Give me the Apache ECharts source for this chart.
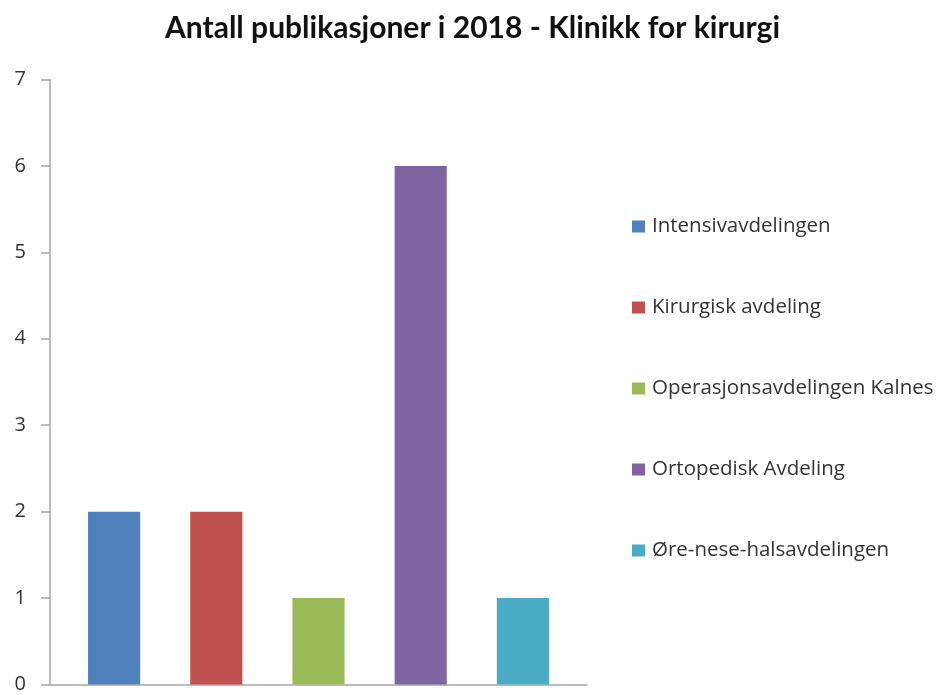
<!DOCTYPE html>
<html>
<head>
<meta charset="utf-8">
<script src="https://cdn.jsdelivr.net/npm/echarts@6/dist/echarts.min.js"></script>
<style>
  html, body { margin: 0; padding: 0; background: #fff; }
  #chart { width: 945px; height: 695px; }
</style>
</head>
<body>
<div id="chart"></div>
<script>
// Publications per department, 2018
const titleText = 'Antall publikasjoner i 2018 - Klinikk for kirurgi';
const departments = [
  'Intensivavdelingen',
  'Kirurgisk avdeling',
  'Operasjonsavdelingen Kalnes',
  'Ortopedisk Avdeling',
  'Øre-nese-halsavdelingen'
];
const publications = [2, 2, 1, 6, 1];
const barColors = ['#4F81BD', '#C0504D', '#9BBB59', '#8064A2', '#4BACC6'];
const yTicks = [0, 1, 2, 3, 4, 5, 6, 7];

const titleFont = 'Lato, "Open Sans", sans-serif';
const bodyFont = '"Open Sans", Lato, sans-serif';

// One series per department so each gets its own legend entry;
// stacking keeps every bar centred in its own category slot.
const series = departments.map((name, i) => ({
  name: name,
  type: 'bar',
  stack: 'all',
  barWidth: '51%',
  xAxisIndex: 0,
  yAxisIndex: 0,
  itemStyle: { color: barColors[i] },
  data: publications.map((v, j) => (j === i ? v : null))
}));

const chart = echarts.init(document.getElementById('chart'), null, { renderer: 'canvas' });
chart.setOption({
  animation: false,
  color: barColors,
  title: {
    text: titleText,
    left: 'center',
    top: 8,
    textStyle: { fontFamily: titleFont, fontSize: 30, fontWeight: 'bold', color: '#111' }
  },
  legend: {
    orient: 'vertical',
    left: 627,
    top: 211,
    itemWidth: 13,
    itemHeight: 12,
    itemGap: 60,
    icon: 'rect',
    textStyle: { fontFamily: bodyFont, fontSize: 20.5, color: '#333', lineHeight: 20, padding: [0, 0, 0, 2] },
    data: departments
  },
  grid: [
    { left: 63, width: 511, top: 79.5, bottom: 10.5 },
    { left: 50, width: 537, top: 79.5, bottom: 10.5 }
  ],
  xAxis: [
    {
      gridIndex: 0,
      type: 'category',
      data: departments,
      axisLine: { show: false },
      axisTick: { show: false },
      axisLabel: { show: false }
    },
    {
      gridIndex: 1,
      type: 'category',
      data: departments,
      axisLine: { show: true, lineStyle: { color: '#a6a6a6', width: 1.5 } },
      axisTick: { show: false },
      axisLabel: { show: false }
    }
  ],
  yAxis: [
    {
      gridIndex: 0,
      type: 'value',
      min: yTicks[0],
      max: yTicks[yTicks.length - 1],
      interval: 1,
      offset: 13,
      axisLine: { show: true, lineStyle: { color: '#a6a6a6', width: 1.5 } },
      axisTick: { show: true, length: 9, lineStyle: { color: '#a6a6a6', width: 1.5 } },
      axisLabel: { margin: 24, fontFamily: bodyFont, fontSize: 20, color: '#333' },
      splitLine: { show: false }
    },
    {
      gridIndex: 1,
      type: 'value',
      min: yTicks[0],
      max: yTicks[yTicks.length - 1],
      show: false
    }
  ],
  series: series
});
</script>
</body>
</html>
